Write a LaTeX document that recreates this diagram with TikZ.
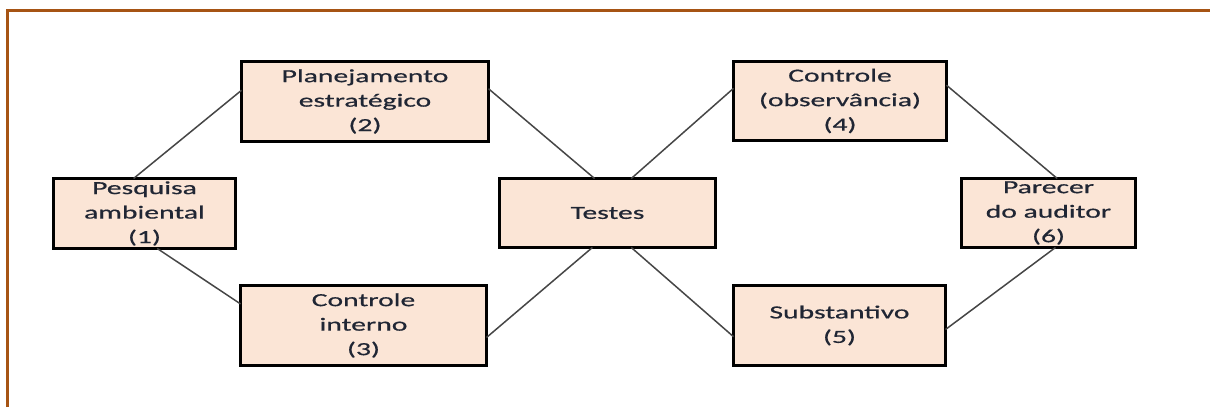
\documentclass[tikz,border=0pt]{standalone}
\usepackage{fontspec}
\setmainfont{Carlito}[FakeStretch=1.6,FakeBold=0.6]
\usetikzlibrary{calc}
\definecolor{framebrown}{RGB}{166,84,20}
\definecolor{boxfill}{RGB}{251,229,214}
\definecolor{txtcol}{RGB}{32,38,52}
\definecolor{linecol}{RGB}{70,70,70}
\tikzset{
  stagebox/.style={draw=black, line width=2.6pt, fill=boxfill, align=center,
    text=txtcol, inner sep=0pt, outer sep=0pt,
    font=\fontsize{18.5}{24.5}\selectfont},
  link/.style={draw=linecol, line width=1.5pt}
}
\begin{document}
\begin{tikzpicture}[x=1pt,y=-1pt]
\useasboundingbox (0,0) rectangle (1210,407);
\fill[white] (0,0) rectangle (1210,407);
\draw[framebrown, line width=3pt] (7,407) -- (7,10) -- (1210,10);

\node[stagebox, minimum width=182, minimum height=70] (n1) at (144.5,213.5) {Pesquisa\\ambiental\\(1)};
\node[stagebox, minimum width=247, minimum height=80] (n2) at (365,101.5) {Planejamento\\estratégico\\(2)};
\node[stagebox, minimum width=246, minimum height=80] (n3) at (363.5,325.5) {Controle\\interno\\(3)};
\node[stagebox, minimum width=216, minimum height=69] (nT) at (607.5,213) {Testes};
\node[stagebox, minimum width=213, minimum height=79] (n4) at (840,101) {Controle\\(observância)\\(4)};
\node[stagebox, minimum width=212, minimum height=80] (n5) at (839.5,325.5) {Substantivo\\(5)};
\node[stagebox, minimum width=174, minimum height=69] (n6) at (1048.5,213) {Parecer\\do auditor\\(6)};

\draw[link] ($(n1.north west)!0.44!(n1.north east)$) -- ($(n2.north west)!0.36!(n2.south west)$);
\draw[link] ($(n1.south west)!0.57!(n1.south east)$) -- ($(n3.north west)!0.23!(n3.south west)$);
\draw[link] ($(n2.north east)!0.34!(n2.south east)$) -- ($(nT.north west)!0.44!(nT.north east)$);
\draw[link] ($(n3.north east)!0.65!(n3.south east)$) -- ($(nT.south west)!0.43!(nT.south east)$);
\draw[link] ($(nT.north west)!0.61!(nT.north east)$) -- ($(n4.north west)!0.34!(n4.south west)$);
\draw[link] ($(nT.south west)!0.61!(nT.south east)$) -- ($(n5.north west)!0.64!(n5.south west)$);
\draw[link] ($(n4.north east)!0.30!(n4.south east)$) -- ($(n6.north west)!0.55!(n6.north east)$);
\draw[link] ($(n5.north east)!0.55!(n5.south east)$) -- ($(n6.south west)!0.54!(n6.south east)$);
\end{tikzpicture}
\end{document}
